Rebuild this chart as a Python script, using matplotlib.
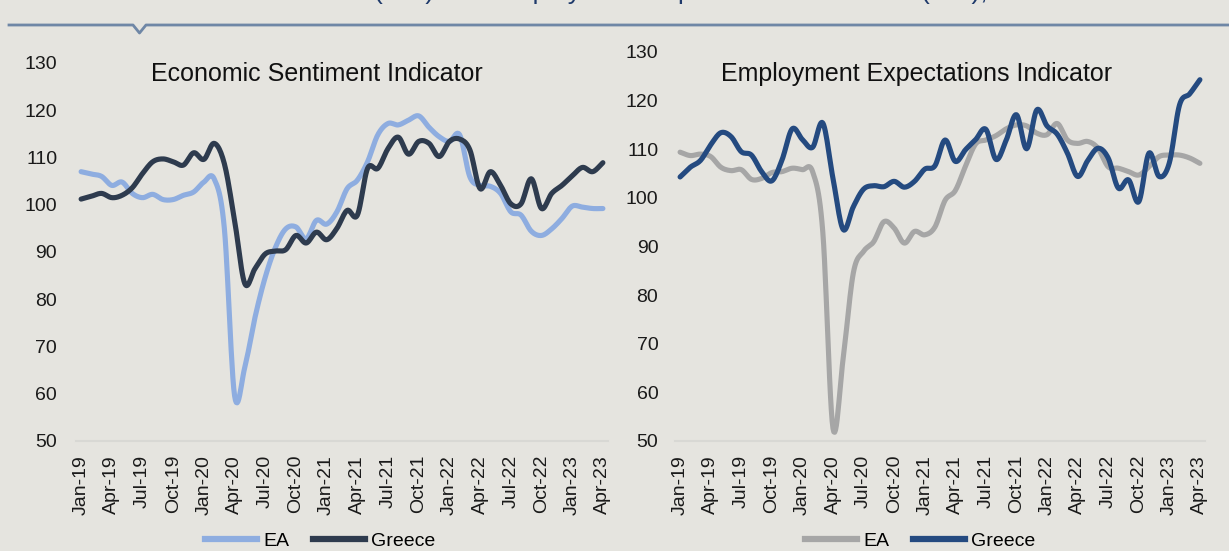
import numpy as np
import matplotlib
matplotlib.use("Agg")
import matplotlib.pyplot as plt
from matplotlib.lines import Line2D

plt.rcParams['font.family'] = ['Liberation Sans', 'DejaVu Sans']

# monthly, Jan-19 .. Apr-23
months = ['Jan', 'Feb', 'Mar', 'Apr', 'May', 'Jun', 'Jul', 'Aug', 'Sep', 'Oct', 'Nov', 'Dec']
dates = [f"{months[i % 12]}-{19 + i // 12}" for i in range(52)]

esi_ea = [107.0, 106.5, 106.0, 104.1, 104.8, 102.4, 101.5, 102.2, 101.1, 101.1,
          102.0, 102.7, 104.8, 105.5, 95.0, 59.6, 65.6, 76.2, 84.7, 91.0,
          94.9, 95.3, 92.8, 96.7, 95.9, 98.5, 103.4, 105.2, 109.1, 114.8,
          117.2, 116.9, 117.9, 118.8, 116.4, 114.4, 113.4, 114.8, 105.9, 104.1,
          103.9, 102.4, 98.5, 97.8, 94.4, 93.5, 94.9, 97.1, 99.7, 99.5,
          99.2, 99.2]
esi_gr = [101.2, 101.8, 102.4, 101.5, 102.0, 103.6, 106.6, 109.1, 109.7, 109.1,
          108.4, 111.0, 109.6, 113.0, 108.7, 96.7, 83.3, 86.5, 89.6, 90.2,
          90.5, 93.5, 91.9, 94.2, 92.6, 95.0, 98.8, 97.8, 107.7, 107.7,
          111.9, 114.3, 110.7, 113.4, 113.0, 110.2, 113.4, 113.9, 111.6, 103.4,
          107.0, 104.1, 100.2, 100.2, 105.5, 99.2, 102.4, 104.1, 106.1, 107.9,
          107.0, 108.9]
eei_ea = [109.4, 108.7, 109.0, 108.5, 106.3, 105.6, 105.8, 103.8, 104.0, 105.2,
          105.4, 106.1, 105.8, 105.4, 93.0, 52.6, 67.0, 84.6, 89.0, 91.0,
          95.1, 93.8, 90.7, 93.1, 92.4, 94.0, 99.5, 101.5, 106.5, 111.1,
          111.9, 112.8, 114.2, 115.0, 114.8, 113.3, 113.0, 115.3, 111.9, 111.2,
          111.6, 110.2, 106.4, 106.1, 105.4, 104.7, 106.4, 108.5, 108.8, 108.8,
          108.2, 107.1]
eei_gr = [104.3, 106.3, 107.7, 110.9, 113.4, 112.6, 109.5, 108.8, 105.4, 103.5,
          107.8, 114.2, 112.0, 110.4, 115.4, 104.0, 93.5, 98.2, 101.8, 102.5,
          102.3, 103.4, 102.2, 103.4, 105.9, 106.6, 111.9, 107.5, 109.9, 112.0,
          114.1, 107.9, 111.9, 117.1, 110.1, 118.1, 114.8, 113.1, 109.2, 104.4,
          107.7, 110.2, 108.2, 102.0, 103.7, 99.2, 109.2, 104.4, 107.2, 119.1,
          121.4, 124.3]

bg = '#E5E4DF'
W, H = 1229, 551


def smooth(y, n=12):
    # excel-style smoothed line (catmull-rom through the points)
    y = np.asarray(y, float)
    x = np.arange(len(y), dtype=float)
    px = np.concatenate([[2 * x[0] - x[1]], x, [2 * x[-1] - x[-2]]])
    py = np.concatenate([[2 * y[0] - y[1]], y, [2 * y[-1] - y[-2]]])
    t = np.linspace(0, 1, n, endpoint=False)[:, None]
    xs, ys = [], []
    for i in range(1, len(px) - 2):
        for p, out in ((px, xs), (py, ys)):
            p0, p1, p2, p3 = p[i - 1], p[i], p[i + 1], p[i + 2]
            out.append((0.5 * (2 * p1 + (-p0 + p2) * t + (2 * p0 - 5 * p1 + 4 * p2 - p3) * t ** 2
                               + (-p0 + 3 * p1 - 3 * p2 + p3) * t ** 3)).ravel())
    xs.append([x[-1]])
    ys.append([y[-1]])
    return np.concatenate(xs), np.concatenate(ys)


fig = plt.figure(figsize=(W / 100, H / 100), dpi=100, facecolor=bg)


def px_box(l, r, t, b):
    return [l / W, 1 - b / H, (r - l) / W, (b - t) / H]


panels = [
    (px_box(76, 608, 63, 441), 'Economic Sentiment Indicator', 317, esi_ea, esi_gr,
     '#8EADE0', '#2E3B4E', 320, 13.5),
    (px_box(675, 1205, 52, 441), 'Employment Expectations Indicator', 917, eei_ea, eei_gr,
     '#A6A6A6', '#244A80', 920, 12),
]

for box, title, tx, ea, gr, c_ea, c_gr, lx, ypad in panels:
    ax = fig.add_axes(box)
    ax.set_facecolor(bg)
    for y, c in ((ea, c_ea), (gr, c_gr)):
        sx, sy = smooth(y)
        ax.plot(sx, sy, color=c, lw=3.7, solid_capstyle='round', solid_joinstyle='round')
    ax.set_xlim(-0.5, len(dates) - 0.5)
    ax.set_ylim(50, 130)
    ax.set_yticks(range(50, 131, 10))
    ax.set_xticks(range(0, len(dates), 3))
    ax.set_xticklabels(dates[::3], rotation=90)
    ax.tick_params(axis='both', length=0, labelsize=14, colors='#1A1A1A')
    ax.tick_params(axis='y', pad=ypad)
    ax.tick_params(axis='x', pad=10)
    for s in ('top', 'right', 'left'):
        ax.spines[s].set_visible(False)
    ax.spines['bottom'].set_color('#D8D8D4')
    ax.spines['bottom'].set_linewidth(1.5)
    fig.text(tx / W, 1 - 74 / H, title, ha='center', va='center', fontsize=18, color='#111111')
    handles = [Line2D([], [], color=c_ea, lw=4.5), Line2D([], [], color=c_gr, lw=4.5)]
    fig.legend(handles, ['EA', 'Greece'], loc='center', bbox_to_anchor=(lx / W, 1 - 541 / H),
               ncol=2, frameon=False, fontsize=14, handlelength=2.7, handletextpad=0.3,
               columnspacing=1.2)

# header rule with the small notch
hx = np.array([9, 133, 139.5, 146, W])
hy = np.array([25, 25, 33, 25, 25])
fig.add_artist(Line2D(hx / W, 1 - hy / H, color='#6F87A6', lw=2, transform=fig.transFigure))

# figure title, cut off at the top of the image (only descenders show)
fig.text(374 / W, 1 + 1.5 / H, '(ESI) and Employment Expectations Indicator',
         ha='left', va='baseline', fontsize=19, color='#1F3A6B')
fig.text(920 / W, 1 + 1.5 / H, '(EEI),',
         ha='left', va='baseline', fontsize=19, color='#1F3A6B')

fig.savefig('out.png', dpi=100, facecolor=bg)
